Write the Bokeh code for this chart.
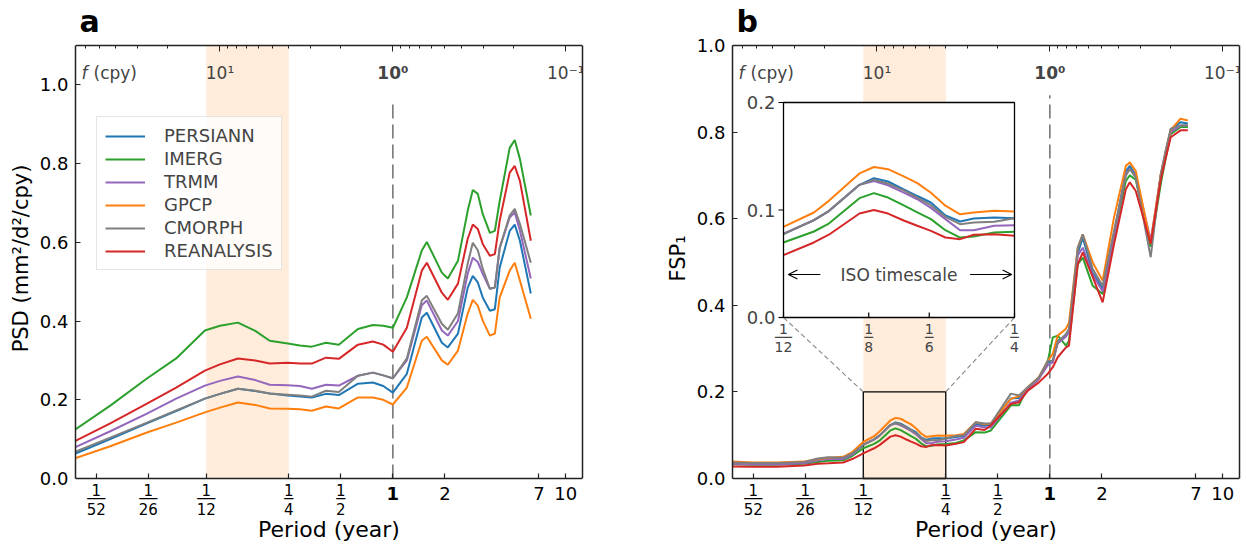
import numpy as np
from bokeh.plotting import figure
from bokeh.models import (Range1d, LogScale, FixedTicker, LogAxis, LinearAxis, Label, Legend,
                          LegendItem, Arrow, OpenHead, BoxAnnotation, CustomJSTickFormatter,
                          PrintfTickFormatter)
from bokeh.layouts import row
from bokeh.core.properties import value
from bokeh.embed import file_html
from bokeh.resources import INLINE

FONT = "DejaVu Sans"

# ---------------- data ----------------
names = ["PERSIANN", "IMERG", "TRMM", "GPCP", "CMORPH", "REANALYSIS"]
colors = ["#1f77b4", "#2ca02c", "#9467bd", "#ff7f0e", "#7f7f7f", "#d62728"]

# panel a: PSD vs period (year)
period_a = [0.0145, 0.0232, 0.0378, 0.0558, 0.0818, 0.1, 0.127, 0.16, 0.194, 0.247,
            0.29, 0.340, 0.410, 0.487, 0.628, 0.766, 0.88, 1.0, 1.205, 1.47,
            1.572, 1.92, 2.08, 2.38, 2.71, 2.90, 3.10, 3.31, 3.64, 3.89,
            4.15, 4.74, 5.07, 5.43, 6.28]
psd_persiann = [0.063, 0.100, 0.140, 0.171, 0.203, 0.215, 0.228, 0.222, 0.216, 0.211,
                0.208, 0.206, 0.215, 0.212, 0.241, 0.244, 0.235, 0.218, 0.266, 0.409,
                0.421, 0.345, 0.333, 0.368, 0.485, 0.515, 0.498, 0.460, 0.426, 0.430,
                0.536, 0.629, 0.645, 0.604, 0.470]
psd_imerg = [0.124, 0.185, 0.254, 0.305, 0.376, 0.388, 0.396, 0.375, 0.350, 0.343,
             0.338, 0.335, 0.345, 0.340, 0.380, 0.390, 0.388, 0.383, 0.460, 0.579,
             0.601, 0.523, 0.508, 0.553, 0.680, 0.733, 0.723, 0.672, 0.624, 0.629,
             0.705, 0.840, 0.860, 0.812, 0.668]
psd_trmm = [0.079, 0.120, 0.165, 0.203, 0.236, 0.248, 0.259, 0.250, 0.238, 0.237,
            0.235, 0.228, 0.238, 0.236, 0.261, 0.269, 0.262, 0.255, 0.300, 0.440,
            0.452, 0.376, 0.363, 0.400, 0.520, 0.561, 0.550, 0.520, 0.482, 0.485,
            0.586, 0.663, 0.676, 0.630, 0.508]
psd_gpcp = [0.051, 0.082, 0.117, 0.142, 0.168, 0.180, 0.193, 0.187, 0.178, 0.177,
            0.176, 0.172, 0.183, 0.178, 0.206, 0.206, 0.200, 0.188, 0.231, 0.350,
            0.360, 0.300, 0.289, 0.325, 0.419, 0.454, 0.439, 0.401, 0.363, 0.368,
            0.460, 0.528, 0.548, 0.503, 0.406]
psd_cmorph = [0.068, 0.104, 0.142, 0.173, 0.203, 0.215, 0.228, 0.223, 0.216, 0.213,
              0.211, 0.208, 0.223, 0.220, 0.261, 0.269, 0.262, 0.254, 0.305, 0.452,
              0.464, 0.393, 0.378, 0.420, 0.546, 0.599, 0.580, 0.533, 0.482, 0.485,
              0.586, 0.668, 0.685, 0.647, 0.548]
psd_reanalysis = [0.095, 0.140, 0.190, 0.231, 0.274, 0.290, 0.305, 0.300, 0.292, 0.294,
                  0.292, 0.292, 0.307, 0.304, 0.340, 0.348, 0.340, 0.322, 0.383, 0.528,
                  0.548, 0.472, 0.454, 0.495, 0.609, 0.645, 0.634, 0.596, 0.566, 0.570,
                  0.655, 0.777, 0.794, 0.756, 0.604]
psd_series = [psd_persiann, psd_imerg, psd_trmm, psd_gpcp, psd_cmorph, psd_reanalysis]

# panel b: FSP1 vs period (year)
period_b = [0.0146, 0.0192, 0.0265, 0.0379, 0.0455, 0.0522, 0.0637, 0.0720, 0.0833, 0.0963,
            0.1034, 0.1196, 0.1281, 0.137, 0.148, 0.1575, 0.168, 0.180, 0.193, 0.206,
            0.227, 0.25, 0.286, 0.318, 0.373, 0.42, 0.456, 0.595, 0.662, 0.746,
            0.864, 0.974, 1.04, 1.11, 1.24, 1.29, 1.45, 1.55, 1.77, 2.02,
            2.35, 2.75, 2.9, 3.14, 3.83, 4.38, 4.68, 5.0, 5.7, 6.28]
fsp_persiann = [0.036, 0.035, 0.035, 0.037, 0.044, 0.047, 0.047, 0.056, 0.0775, 0.0905,
                0.099, 0.1234, 0.1296, 0.1265, 0.119, 0.113, 0.107, 0.095, 0.0893, 0.0921,
                0.093, 0.0924, 0.096, 0.098, 0.126, 0.122, 0.124, 0.185, 0.186, 0.208,
                0.232, 0.268, 0.272, 0.318, 0.330, 0.342, 0.520, 0.556, 0.475, 0.438,
                0.565, 0.710, 0.722, 0.700, 0.535, 0.700, 0.755, 0.805, 0.823, 0.820]
fsp_imerg = [0.033, 0.032, 0.032, 0.034, 0.038, 0.041, 0.042, 0.052, 0.0698, 0.080,
             0.0874, 0.111, 0.1157, 0.1116, 0.104, 0.0977, 0.0915, 0.0812, 0.0744, 0.0753,
             0.079, 0.0797, 0.082, 0.088, 0.107, 0.106, 0.111, 0.169, 0.169, 0.211,
             0.230, 0.272, 0.326, 0.330, 0.307, 0.318, 0.495, 0.510, 0.445, 0.426,
             0.560, 0.687, 0.700, 0.690, 0.535, 0.680, 0.740, 0.795, 0.812, 0.812]
fsp_trmm = [0.034, 0.033, 0.033, 0.035, 0.042, 0.045, 0.045, 0.055, 0.078, 0.0905,
            0.099, 0.1234, 0.127, 0.123, 0.116, 0.110, 0.102, 0.0915, 0.0812, 0.0812,
            0.0853, 0.0859, 0.090, 0.094, 0.122, 0.118, 0.118, 0.175, 0.180, 0.206,
            0.230, 0.262, 0.268, 0.312, 0.328, 0.338, 0.515, 0.533, 0.470, 0.432,
            0.560, 0.705, 0.715, 0.698, 0.550, 0.700, 0.752, 0.800, 0.815, 0.816]
fsp_gpcp = [0.039, 0.037, 0.037, 0.039, 0.045, 0.048, 0.050, 0.061, 0.0843, 0.0977,
            0.1085, 0.134, 0.140, 0.138, 0.131, 0.125, 0.116, 0.104, 0.096, 0.0977,
            0.0992, 0.0986, 0.100, 0.103, 0.130, 0.125, 0.127, 0.184, 0.190, 0.211,
            0.234, 0.272, 0.288, 0.330, 0.346, 0.360, 0.533, 0.564, 0.499, 0.457,
            0.603, 0.722, 0.730, 0.710, 0.542, 0.703, 0.757, 0.805, 0.831, 0.827]
fsp_cmorph = [0.037, 0.036, 0.036, 0.038, 0.046, 0.049, 0.048, 0.058, 0.0775, 0.0905,
              0.099, 0.1234, 0.128, 0.1246, 0.118, 0.1116, 0.1045, 0.0936, 0.0868, 0.0884,
              0.089, 0.0924, 0.098, 0.100, 0.130, 0.127, 0.127, 0.196, 0.192, 0.211,
              0.234, 0.272, 0.272, 0.315, 0.334, 0.345, 0.533, 0.564, 0.484, 0.445,
              0.572, 0.699, 0.715, 0.695, 0.511, 0.703, 0.757, 0.808, 0.815, 0.816]
fsp_reanalysis = [0.028, 0.027, 0.027, 0.030, 0.034, 0.035, 0.037, 0.045, 0.058, 0.0698,
                  0.077, 0.0967, 0.100, 0.0967, 0.090, 0.0853, 0.0806, 0.0744, 0.0729, 0.077,
                  0.0775, 0.076, 0.080, 0.084, 0.115, 0.112, 0.123, 0.172, 0.176, 0.203,
                  0.222, 0.242, 0.257, 0.280, 0.303, 0.307, 0.495, 0.522, 0.465, 0.407,
                  0.541, 0.668, 0.684, 0.664, 0.542, 0.690, 0.740, 0.788, 0.804, 0.804]
fsp_series = [fsp_persiann, fsp_imerg, fsp_trmm, fsp_gpcp, fsp_cmorph, fsp_reanalysis]

# ticks / labels
bottom_ticks = [1/52, 1/26, 1/12, 1/4, 1/2, 1, 2, 7, 10]
fraction_denoms = [52, 26, 12, 4, 2]
integer_ticks = [2, 7, 10]
y_ticks = [0.0, 0.2, 0.4, 0.6, 0.8, 1.0]
freq_major = [10, 1, 0.1]                      # cpy
freq_labels = ["10\u00b9", "10\u2070", "10\u207b\u00b9"]
freq_minor = [20, 30, 40, 50, 60, 70, 80, 90, 2, 3, 4, 5, 6, 7, 8, 9,
              0.2, 0.3, 0.4, 0.5, 0.6, 0.7, 0.8, 0.9]
iso_band = (1/12, 1/4)
inset_x_ticks = [1/12, 1/8, 1/6, 1/4]
inset_denoms = [12, 8, 6, 4]
inset_y_ticks = [0.0, 0.1, 0.2]
inset_y_max = 0.2

# ---------------- layout constants ----------------
XR = (0.0146, 12.5)
FW, FH = 507, 433          # plotting area between y = 0 and y = y_end
ABOVE = 45                 # extra frame height above y_end (panel letter)
BELOW = 38                 # extra frame height below y = 0 (tick labels)
TOTAL_H = 546
FHT = ABOVE + FH + BELOW
SPINE = "#222222"
BAND_COLOR = "#ff7f0e"
INSET_PX = dict(left=51, right=282, bottom=161, top=376)   # inset box, px from frame-left / y=0
NUM_PX, BAR_PX, DEN_PX, INT_PX = 11, 20, 30, 15            # label rows, px below y = 0
LETTER_PX = 24                                             # letter baseline, px above y_end


def below(px, y_end):
    return -px / FH * y_end


def new_fig(y_end, border_left, border_right):
    return figure(x_axis_type="log", x_range=Range1d(*XR),
                  y_range=Range1d(below(BELOW, y_end), y_end + ABOVE / FH * y_end),
                  frame_width=FW, frame_height=FHT, title=None,
                  min_border_left=border_left, min_border_right=border_right,
                  min_border_top=0, min_border_bottom=TOTAL_H - FHT,
                  output_backend="svg", toolbar_location=None)


def style_panel(p, y_end, ylabel, letter):
    p.grid.visible = False
    p.outline_line_color = None
    p.background_fill_color = "white"
    p.border_fill_color = "white"

    # left axis = left spine
    ya = p.yaxis[0]
    ya.bounds = (0, y_end)
    ya.ticker = FixedTicker(ticks=y_ticks)
    ya.formatter = PrintfTickFormatter(format="%.1f")
    ya.axis_line_color = SPINE
    ya.axis_line_width = 1.5
    ya.major_tick_line_color = SPINE
    ya.major_tick_line_width = 1.2
    ya.major_tick_in = 5
    ya.major_tick_out = 0
    ya.minor_tick_line_color = None
    ya.major_label_text_font = FONT
    ya.major_label_text_font_size = "18px"
    ya.major_label_text_color = "black"
    ya.major_label_standoff = 7
    ya.axis_label = ylabel
    ya.axis_label_standoff = 4
    ya.axis_label_text_font = FONT
    ya.axis_label_text_font_size = "21px"
    ya.axis_label_text_font_style = "normal"
    ya.axis_label_text_color = "black"

    # bottom axis at the frame bottom: carries only the axis title
    xa = p.xaxis[0]
    xa.ticker = FixedTicker(ticks=[])
    xa.formatter = CustomJSTickFormatter(code="return '';")
    xa.axis_line_color = None
    xa.major_tick_line_color = None
    xa.minor_tick_line_color = None
    xa.major_label_text_font_size = "1px"
    xa.major_label_standoff = 0
    xa.axis_label = "Period (year)"
    xa.axis_label_standoff = 0
    xa.axis_label_text_font = FONT
    xa.axis_label_text_font_size = "22px"
    xa.axis_label_text_font_style = "normal"
    xa.axis_label_text_color = "black"

    # period axis drawn at y = 0 (bottom spine with inward ticks)
    xt = LogAxis(fixed_location=0, ticker=FixedTicker(ticks=bottom_ticks, minor_ticks=[]),
                 formatter=CustomJSTickFormatter(code="return '';"),
                 axis_line_color=SPINE, axis_line_width=1.5,
                 major_tick_line_color=SPINE, major_tick_line_width=1.2,
                 major_tick_in=5, major_tick_out=0, minor_tick_line_color=None,
                 major_label_text_font_size="1px", major_label_standoff=0)
    p.add_layout(xt, "below")

    # right spine
    ra = LinearAxis(bounds=(0, y_end), ticker=FixedTicker(ticks=[]),
                    formatter=CustomJSTickFormatter(code="return '';"),
                    axis_line_color=SPINE, axis_line_width=1.5,
                    major_tick_line_color=None, minor_tick_line_color=None,
                    major_label_text_font_size="1px", major_label_standoff=0)
    p.add_layout(ra, "right")

    # top frequency axis drawn at y = y_end (top spine, ticks inward)
    top = LogAxis(fixed_location=y_end,
                  ticker=FixedTicker(ticks=[1 / f for f in freq_major],
                                     minor_ticks=[1 / f for f in freq_minor]),
                  formatter=CustomJSTickFormatter(code="return '';"),
                  axis_line_color=SPINE, axis_line_width=1.5,
                  major_tick_in=6, major_tick_out=0, minor_tick_in=3, minor_tick_out=0,
                  major_tick_line_color=SPINE, minor_tick_line_color=SPINE,
                  major_label_standoff=0, major_label_text_font_size="1px")
    p.add_layout(top, "above")

    # ISO band
    p.add_layout(BoxAnnotation(left=iso_band[0], right=iso_band[1], bottom=0, top=y_end,
                               fill_color=BAND_COLOR, fill_alpha=0.15, line_color=None,
                               level="underlay"))

    # panel letter
    p.add_layout(Label(x=XR[0], y=y_end, x_offset=4, y_offset=LETTER_PX, text=letter,
                       text_font=FONT, text_font_size="30px", text_font_style="bold",
                       text_baseline="alphabetic", text_color="black"))

    # frequency labels inside top edge
    p.add_layout(Label(x=XR[0], y=y_end, x_offset=6, y_offset=-27, text="f",
                       text_font=FONT, text_font_size="17px", text_font_style="italic",
                       text_baseline="middle"))
    p.add_layout(Label(x=XR[0], y=y_end, x_offset=18, y_offset=-27, text="(cpy)",
                       text_font=FONT, text_font_size="17px", text_baseline="middle"))
    for f, lab in zip(freq_major, freq_labels):
        p.add_layout(Label(x=1 / f, y=y_end, y_offset=-27, text=lab, text_align="center",
                           text_baseline="middle", text_font=FONT, text_font_size="17px",
                           text_font_style="bold" if f == 1 else "normal"))

    # period tick labels (fractions, integers) below y = 0
    tf = value(FONT)
    fx = [1 / d for d in fraction_denoms]
    n = len(fx)
    p.text(x=fx, y=[below(NUM_PX, y_end)] * n, text=["1"] * n, text_align="center",
           text_baseline="middle", text_font=tf, text_font_size="15px", text_color="black")
    p.text(x=fx, y=[below(BAR_PX, y_end)] * n, text=["\u2500" * len(str(d)) for d in fraction_denoms],
           text_align="center", text_baseline="middle", text_font=tf, text_font_size="15px",
           text_color="black")
    p.text(x=fx, y=[below(DEN_PX, y_end)] * n, text=[str(d) for d in fraction_denoms],
           text_align="center", text_baseline="middle", text_font=tf, text_font_size="15px",
           text_color="black")
    p.text(x=integer_ticks, y=[below(INT_PX, y_end)] * len(integer_ticks),
           text=[str(t) for t in integer_ticks], text_align="center", text_baseline="middle",
           text_font=tf, text_font_size="18px", text_color="black")
    p.text(x=[1], y=[below(INT_PX, y_end)], text=["1"], text_align="center",
           text_baseline="middle", text_font=tf, text_font_size="18px",
           text_font_style="bold", text_color="black")


# ---------------- panel a ----------------
YA = 1.1
pa = new_fig(YA, 75, 10)
style_panel(pa, YA, "PSD (mm\u00b2/d\u00b2/cpy)", "a")
pa.segment(x0=[1], y0=[0], x1=[1], y1=[0.965], line_color="#777777", line_width=1.6,
           line_dash="14 6")
rends = []
for ys, col in zip(psd_series, colors):
    rends.append(pa.line(period_a, ys, line_color=col, line_width=2))
legend = Legend(items=[LegendItem(label=n, renderers=[r]) for n, r in zip(names, rends)],
                location=(21, 208 + BELOW), label_text_font=FONT, label_text_font_size="18px",
                glyph_width=40, glyph_height=20, label_standoff=19, label_height=21,
                spacing=2, padding=8, margin=0, border_line_color="#cccccc",
                border_line_width=1, background_fill_alpha=0.8)
pa.add_layout(legend)

# ---------------- panel b ----------------
YB = 1.0
pb = new_fig(YB, 140, 9)
style_panel(pb, YB, "FSP\u2081", "b")
pb.segment(x0=[1], y0=[0], x1=[1], y1=[0.885], line_color="#777777", line_width=1.6,
           line_dash="14 6")
# zoom box
pb.quad(left=[iso_band[0]], right=[iso_band[1]], bottom=[0], top=[inset_y_max],
        fill_color=None, line_color="black", line_width=1.3)
for ys, col in zip(fsp_series, colors):
    pb.line(period_b, ys, line_color=col, line_width=2)

# inset coordinate system (extra ranges mapped onto the inset box)
lx0, lx1 = np.log10(iso_band[0]), np.log10(iso_band[1])
dec_per_frame = (lx1 - lx0) / ((INSET_PX["right"] - INSET_PX["left"]) / FW)
ix_start = lx0 - INSET_PX["left"] / FW * dec_per_frame
val_per_frame = inset_y_max / ((INSET_PX["top"] - INSET_PX["bottom"]) / FHT)
iy_start = 0 - (INSET_PX["bottom"] + BELOW) / FHT * val_per_frame
pb.extra_x_ranges = {"ix": Range1d(10 ** ix_start, 10 ** (ix_start + dec_per_frame))}
pb.extra_y_ranges = {"iy": Range1d(iy_start, iy_start + val_per_frame)}
try:
    pb.extra_x_scales = {"ix": LogScale()}
except Exception:
    pass


def main_x(px):
    l0, l1 = np.log10(XR[0]), np.log10(XR[1])
    return 10 ** (l0 + px / FW * (l1 - l0))


# connector lines from the zoom box to the inset
for bx, px in [(iso_band[0], INSET_PX["left"]), (iso_band[1], INSET_PX["right"])]:
    pb.line([bx, main_x(px)], [inset_y_max, INSET_PX["bottom"] / FH * YB],
            line_color="#888888", line_width=1.1, line_dash="5 3")

IN = dict(x_range_name="ix", y_range_name="iy")
pb.quad(left=[iso_band[0]], right=[iso_band[1]], bottom=[0], top=[inset_y_max],
        fill_color="white", line_color=None, **IN)
mask = [(p >= iso_band[0] * 0.995) and (p <= iso_band[1] * 1.005) for p in period_b]
px_in = [p for p, m in zip(period_b, mask) if m]
for ys, col in zip(fsp_series, colors):
    pb.line(px_in, [y for y, m in zip(ys, mask) if m], line_color=col, line_width=2, **IN)
pb.quad(left=[iso_band[0]], right=[iso_band[1]], bottom=[0], top=[inset_y_max],
        fill_color=None, line_color="black", line_width=1.3, **IN)
pb.ray(x=[iso_band[0]] * len(inset_y_ticks), y=inset_y_ticks, length=5, length_units="screen",
       angle=np.pi, line_color="black", line_width=1.2, **IN)
pb.ray(x=inset_x_ticks, y=[0] * len(inset_x_ticks), length=5, length_units="screen",
       angle=np.pi / 2, line_color="black", line_width=1.2, **IN)
for v in inset_y_ticks:
    pb.add_layout(Label(x=iso_band[0], y=v, x_offset=-8, text=f"{v:.1f}", text_align="right",
                        text_baseline="middle", text_font=FONT, text_font_size="18px", **IN))
for t, d in zip(inset_x_ticks, inset_denoms):
    pb.add_layout(Label(x=t, y=0, y_offset=-11, text="1", text_align="center",
                        text_baseline="middle", text_font=FONT, text_font_size="14px", **IN))
    pb.add_layout(Label(x=t, y=0, y_offset=-19, text="\u2500" * len(str(d)), text_align="center",
                        text_baseline="middle", text_font=FONT, text_font_size="14px", **IN))
    pb.add_layout(Label(x=t, y=0, y_offset=-29, text=str(d), text_align="center",
                        text_baseline="middle", text_font=FONT, text_font_size="14px", **IN))
# ISO timescale annotation
iso_mid = float(np.sqrt(iso_band[0] * iso_band[1]))
pb.add_layout(Label(x=iso_mid, y=0.04, text="ISO timescale", text_align="center",
                    text_baseline="middle", text_font=FONT, text_font_size="17px", **IN))
pb.add_layout(Arrow(end=OpenHead(size=9, line_width=1.2), x_start=0.0993, y_start=0.04,
                    x_end=0.0853, y_end=0.04, line_width=1.2, **IN))
pb.add_layout(Arrow(end=OpenHead(size=9, line_width=1.2), x_start=0.2024, y_start=0.04,
                    x_end=0.2466, y_end=0.04, line_width=1.2, **IN))

layout = row(pa, pb)
open("out.html", "w").write(file_html(layout, INLINE))
